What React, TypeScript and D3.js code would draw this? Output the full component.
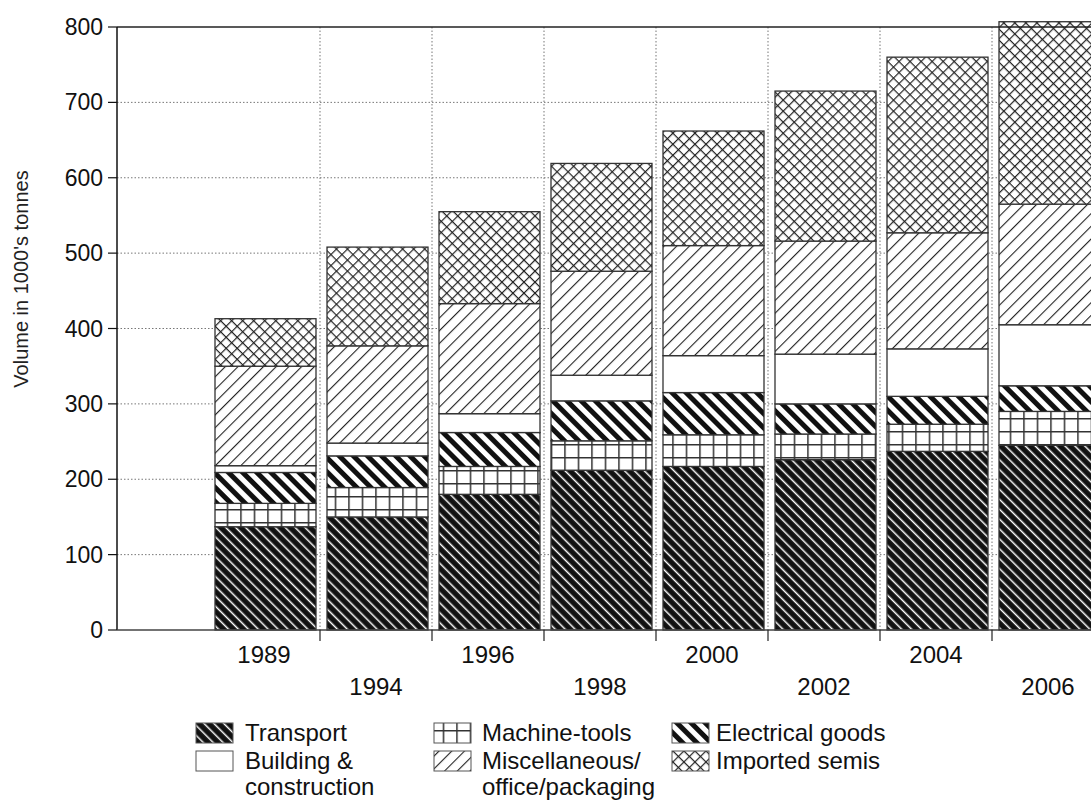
import React from "react";
import * as d3 from "d3";

const years = ["1989", "1994", "1996", "1998", "2000", "2002", "2004", "2006"];
const transport = [137, 150, 180, 212, 217, 226, 237, 245];
const machineTools = [31, 39, 37, 39, 42, 34, 36, 45];
const electrical = [41, 42, 45, 53, 56, 40, 37, 34];
const building = [9, 17, 25, 34, 49, 66, 63, 81];
const misc = [132, 129, 146, 138, 146, 150, 154, 160];
const imported = [63, 131, 122, 143, 152, 199, 233, 242];
const yTicks = [0, 100, 200, 300, 400, 500, 600, 700, 800];

const seriesKeys = ["transport", "machine", "electrical", "building", "misc", "imported"];
const seriesValues: Record<string, number[]> = {
  transport,
  machine: machineTools,
  electrical,
  building,
  misc,
  imported,
};

const legendItems = [
  { key: "transport", lines: ["Transport"], col: 0, row: 0 },
  { key: "machine", lines: ["Machine-tools"], col: 1, row: 0 },
  { key: "electrical", lines: ["Electrical goods"], col: 2, row: 0 },
  { key: "building", lines: ["Building &", "construction"], col: 0, row: 1 },
  { key: "misc", lines: ["Miscellaneous/", "office/packaging"], col: 1, row: 1 },
  { key: "imported", lines: ["Imported semis"], col: 2, row: 1 },
];

const W = 1091;
const H = 807;
const FONT = "'Liberation Sans', Arial, Helvetica, sans-serif";

export default function App() {
  const y = d3.scaleLinear().domain([0, 800]).range([630, 27]);
  const x = d3.scaleBand().domain(years).range([208, 1104]).padding(0);
  const bw = x.bandwidth();
  const axisX = 117;

  const table = years.map((yr, i) => {
    const row: any = { year: yr };
    seriesKeys.forEach((k) => (row[k] = seriesValues[k][i]));
    return row;
  });
  const stacked = d3.stack().keys(seriesKeys)(table as any);

  const boundaries = years.slice(1).map((yr) => x(yr) as number);

  const swX = [196, 434, 672];
  const txX = [245, 482, 716];
  const rowSwY = [723, 751];
  const rowBase = [741, 769];
  const lineH = 26;

  return (
    <svg
      width={W}
      height={H}
      style={{ position: "absolute", left: 0, top: 0, background: "#fff" }}
      fontFamily={FONT}
    >
      <defs>
        <pattern id="p-transport" patternUnits="userSpaceOnUse" width={7} height={7} patternTransform="rotate(45)">
          <rect width={7} height={7} fill="#111" />
          <rect y={2.6} width={7} height={1.5} fill="#fff" />
        </pattern>
        <pattern id="p-machine" patternUnits="userSpaceOnUse" x={10.7} y={2} width={13.5} height={13}>
          <rect width={13.5} height={13} fill="#fff" />
          <rect x={0} width={1.5} height={13} fill="#333" />
          <rect y={0} width={13.5} height={1.5} fill="#333" />
        </pattern>
        <pattern id="p-electrical" patternUnits="userSpaceOnUse" width={10} height={10} patternTransform="rotate(45)">
          <rect width={10} height={10} fill="#fff" />
          <rect y={0} width={10} height={5} fill="#111" />
        </pattern>
        <pattern id="p-building" patternUnits="userSpaceOnUse" width={10} height={10}>
          <rect width={10} height={10} fill="#fff" />
        </pattern>
        <pattern id="p-misc" patternUnits="userSpaceOnUse" width={9} height={9} patternTransform="rotate(-45)">
          <rect width={9} height={9} fill="#fff" />
          <rect y={4} width={9} height={1.1} fill="#222" />
        </pattern>
        <pattern id="p-imported" patternUnits="userSpaceOnUse" width={7.8} height={7.8} patternTransform="rotate(45)">
          <rect width={7.8} height={7.8} fill="#fff" />
          <rect y={0} width={7.8} height={1.2} fill="#222" />
          <rect x={0} width={1.2} height={7.8} fill="#222" />
        </pattern>
      </defs>

      {/* horizontal grid */}
      {yTicks
        .filter((t) => t > 0 && t < 800)
        .map((t) => (
          <line
            key={"hg" + t}
            x1={axisX}
            x2={W}
            y1={y(t)}
            y2={y(t)}
            stroke="#777"
            strokeWidth={1}
            strokeDasharray="1.5,2"
          />
        ))}
      {/* vertical grid */}
      {boundaries.map((bx) => (
        <line
          key={"vg" + bx}
          x1={bx}
          x2={bx}
          y1={y(800)}
          y2={y(0)}
          stroke="#777"
          strokeWidth={1}
          strokeDasharray="1.5,2"
        />
      ))}

      {/* bars */}
      {stacked.map((s) => (
        <g key={s.key}>
          {s.map((d, i) => (
            <rect
              key={years[i]}
              x={(x(years[i]) as number) + 7}
              width={bw - 11}
              y={y(d[1])}
              height={y(d[0]) - y(d[1])}
              fill={`url(#p-${s.key})`}
              stroke="#333"
              strokeWidth={1.3}
            />
          ))}
        </g>
      ))}

      {/* top frame line */}
      <line x1={axisX} x2={W} y1={y(800)} y2={y(800)} stroke="#222" strokeWidth={1.5} />
      {/* y axis */}
      <line x1={axisX} x2={axisX} y1={y(800)} y2={y(0)} stroke="#111" strokeWidth={1.5} />
      {yTicks.map((t) => (
        <g key={"yt" + t}>
          <line x1={axisX - 9} x2={axisX} y1={y(t)} y2={y(t)} stroke="#111" strokeWidth={1.2} />
          <text x={axisX - 14} y={y(t) + 8} textAnchor="end" fontSize={23} fill="#111">
            {t}
          </text>
        </g>
      ))}
      {/* x axis */}
      <line x1={axisX} x2={W} y1={y(0)} y2={y(0)} stroke="#444" strokeWidth={1.3} />
      {boundaries.map((bx) => (
        <line key={"xt" + bx} x1={bx} x2={bx} y1={y(0)} y2={y(0) + 11} stroke="#222" strokeWidth={1.2} />
      ))}
      {years.map((yr, i) => (
        <text
          key={"xl" + yr}
          x={(x(yr) as number) + bw / 2}
          y={i % 2 === 0 ? 663 : 695}
          textAnchor="middle"
          fontSize={24}
          fill="#111"
        >
          {yr}
        </text>
      ))}

      {/* y label */}
      <text transform={`translate(28,279) rotate(-90)`} textAnchor="middle" fontSize={20} fill="#222">
        Volume in 1000's tonnes
      </text>

      {/* legend */}
      {legendItems.map((it) => (
        <g key={"lg" + it.key}>
          <rect
            x={swX[it.col]}
            y={rowSwY[it.row]}
            width={37}
            height={20}
            fill={`url(#p-${it.key})`}
            stroke="#555"
            strokeWidth={1}
          />
          {it.lines.map((ln, j) => (
            <text key={j} x={txX[it.col]} y={rowBase[it.row] + j * lineH} fontSize={24} fill="#111">
              {ln}
            </text>
          ))}
        </g>
      ))}
    </svg>
  );
}
